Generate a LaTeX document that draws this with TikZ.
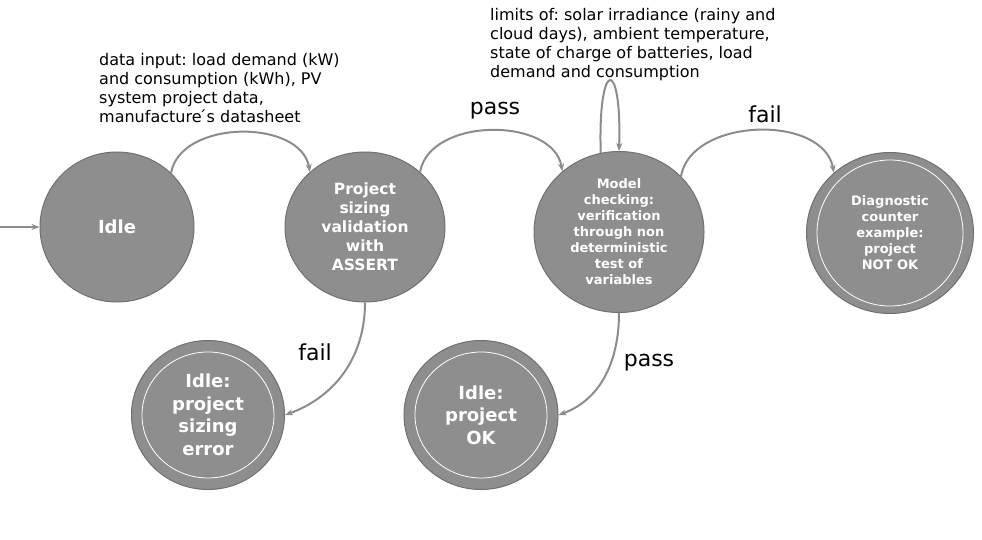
\documentclass[tikz,border=0pt]{standalone}
\usepackage{fontspec}
\setmainfont{DejaVu Sans}
\usepackage{tikz}
\usetikzlibrary{shapes}
\usetikzlibrary{arrows.meta}
\frenchspacing

\definecolor{phasefill}{RGB}{142,142,142}
\definecolor{phaseline}{RGB}{112,112,112}
\definecolor{edgegray}{RGB}{140,140,140}

\tikzset{
  phase/.style={ellipse, draw=phaseline, fill=phasefill, line width=1pt, inner sep=0pt, align=center, text=white, font=\bfseries},
  edge/.style={draw=edgegray, line width=2pt, -{Stealth[length=8pt,width=6pt]}},
  lbl/.style={font=\fontsize{22}{26}\selectfont, inner sep=0pt},
  note/.style={font=\fontsize{16}{19}\selectfont, align=left, anchor=north west, inner sep=0pt},
  ring/.style={draw=white, line width=0.8pt}
}

\begin{document}
\begin{tikzpicture}[x=1pt,y=1pt]
    \useasboundingbox (0,0) rectangle (982,-540);

    %states
    \node[phase, minimum width=154, minimum height=150, font=\bfseries\fontsize{18}{22}\selectfont] (idle) at (117,-227) {Idle};
    \node[phase, minimum width=160, minimum height=150, font=\bfseries\fontsize{15.5}{19}\selectfont] (proj) at (365,-227) {Project\\sizing\\validation\\with\\ASSERT};
    \node[phase, minimum width=170, minimum height=161, font=\bfseries\fontsize{13}{16}\selectfont] (model) at (619,-232) {Model\\checking:\\verification\\through non\\deterministic\\test of\\variables};
    \node[phase, minimum width=167, minimum height=161, font=\bfseries\fontsize{13}{16}\selectfont] (diag) at (890,-233) {Diagnostic\\counter\\example:\\project\\NOT OK};
    \node[phase, minimum width=153, minimum height=149, font=\bfseries\fontsize{18}{22.5}\selectfont] (err) at (208,-415) {Idle:\\project\\sizing\\error};
    \node[phase, minimum width=154, minimum height=149, font=\bfseries\fontsize{18}{22.5}\selectfont] (ok) at (481,-415) {Idle:\\project\\OK};

    %final rings
    \draw[ring] (diag.center) ellipse (73 and 73);
    \draw[ring] (err.center) ellipse (66 and 63);
    \draw[ring] (ok.center) ellipse (66 and 63);

    %notes
    \node[note] (input) at (99,-53) {data input: load demand (kW)\\and consumption (kWh), PV\\system project data,\\manufacture\'{}s datasheet};
    \node[note] (limits) at (490,-8) {limits of: solar irradiance (rainy and\\cloud days), ambient temperature,\\state of charge of batteries, load\\demand and consumption};

    %transitions
    \coordinate (in) at (0,-227);
    \draw[edge] (in) -- (idle);
    \draw[edge] (idle.45) to[out=80,in=100] (proj.135);
    \draw[edge] (proj.45) to[out=80,in=100] (model.133);
    \draw[edge] (model.103) .. controls +(-3,95) and +(3,95) .. (model.90);
    \draw[edge] (model.42) to[out=80,in=100] (diag.133);
    \draw[edge] (proj.south) to[out=-90,in=20] (err.east);
    \draw[edge] (model.south) to[out=-90,in=20] (ok.east);

    %labels
    \node[lbl] (pass1) at (495,-111) {pass};
    \node[lbl] (fail1) at (765,-114) {fail};
    \node[lbl] (fail2) at (315,-352) {fail};
    \node[lbl] (pass2) at (649,-363) {pass};
\end{tikzpicture}
\end{document}
